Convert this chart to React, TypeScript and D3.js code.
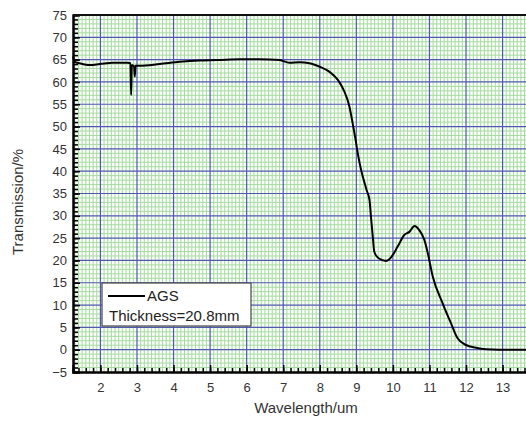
import React, { useEffect, useRef } from 'react';
import * as d3 from 'd3';

// wavelength (um) and transmission (%)
const wavelength = [
  1.25, 1.3, 1.43, 1.71, 1.98, 2.34, 2.75, 2.82, 2.84, 2.86, 2.92, 2.94, 2.96,
  3.07, 3.62, 4.17, 4.71, 5.2, 5.81, 6.35, 6.9, 7.17, 7.45, 7.72, 8.0, 8.26,
  8.5, 8.67, 8.81, 8.9, 8.98, 9.05, 9.13, 9.28, 9.36, 9.4, 9.45, 9.49, 9.55,
  9.61, 9.81, 9.95, 10.13, 10.31, 10.45, 10.59, 10.72, 10.86, 10.95, 11.09,
  11.36, 11.59, 11.77, 12.0, 12.27, 12.55, 12.9, 13.75
];
const transmission = [
  65.7, 64.5, 64.2, 63.8, 64.0, 64.3, 64.3, 64.2, 57.1, 63.8, 63.5, 61.2, 63.6,
  63.6, 64.0, 64.5, 64.8, 64.9, 65.1, 65.1, 64.9, 64.3, 64.4, 64.2, 63.4, 62.3,
  60.4, 57.9, 54.5, 50.7, 47.0, 43.5, 40.3, 35.8, 33.5, 29.8, 25.3, 22.0, 21.0,
  20.5, 19.9, 20.7, 23.1, 25.7, 26.4, 27.7, 26.8, 24.6, 21.8, 16.4,
  10.4, 5.9, 2.55, 1.05, 0.45, 0.1, 0, 0
];

const xTicks = [2, 3, 4, 5, 6, 7, 8, 9, 10, 11, 12, 13];
const yTicks = [-5, 0, 5, 10, 15, 20, 25, 30, 35, 40, 45, 50, 55, 60, 65, 70, 75];
const xDomain = [1.25, 13.75];
const yDomain = [-5, 75];

const legendName = 'AGS';
const legendNote = 'Thickness=20.8mm';

const App = () => {
  const svgRef = useRef(null);
  const width = 526;
  const height = 423;
  const margin = { top: 15, right: -4, bottom: 51, left: 73 };

  useEffect(() => {
    const svg = d3.select(svgRef.current);
    svg.selectAll('*').remove();

    const plotWidth = width - margin.left - margin.right;
    const plotHeight = height - margin.top - margin.bottom;
    const font = 'Liberation Sans, Arial, sans-serif';

    const x = d3.scaleLinear().domain(xDomain).range([0, plotWidth]);
    const y = d3.scaleLinear().domain(yDomain).range([plotHeight, 0]);

    const plot = svg.append('g')
      .attr('transform', `translate(${margin.left}, ${margin.top})`);

    plot.append('rect')
      .attr('width', plotWidth)
      .attr('height', plotHeight)
      .attr('fill', '#fbfdfb');

    // minor green grid
    const xMinor = d3.range(13, 138).map(d => d / 10).filter(d => Math.abs(d - Math.round(d)) > 0.01);
    const yMinor = d3.range(-5, 76).filter(d => d % 5 !== 0);

    plot.append('g').selectAll('line')
      .data(xMinor)
      .enter()
      .append('line')
      .attr('x1', d => x(d)).attr('x2', d => x(d))
      .attr('y1', 0).attr('y2', plotHeight)
      .attr('stroke', '#a6dba0')
      .attr('stroke-width', 1);

    plot.append('g').selectAll('line')
      .data(yMinor)
      .enter()
      .append('line')
      .attr('x1', 0).attr('x2', plotWidth)
      .attr('y1', d => y(d)).attr('y2', d => y(d))
      .attr('stroke', '#a6dba0')
      .attr('stroke-width', 1);

    // major blue grid
    plot.append('g').selectAll('line')
      .data(xTicks)
      .enter()
      .append('line')
      .attr('x1', d => x(d)).attr('x2', d => x(d))
      .attr('y1', 0).attr('y2', plotHeight)
      .attr('stroke', '#5058b0')
      .attr('stroke-width', 1.2);

    plot.append('g').selectAll('line')
      .data(yTicks.slice(1, -1))
      .enter()
      .append('line')
      .attr('x1', 0).attr('x2', plotWidth)
      .attr('y1', d => y(d)).attr('y2', d => y(d))
      .attr('stroke', '#5058b0')
      .attr('stroke-width', 1.2);

    // axes, ticks pointing inward
    const xAxis = d3.axisBottom(x)
      .tickValues(d3.range(1.4, 13.75, 0.2).map(d => +d.toFixed(1)))
      .tickSize(-4)
      .tickFormat(() => '');
    const xMajor = d3.axisBottom(x)
      .tickValues(xTicks)
      .tickSize(-7)
      .tickPadding(11)
      .tickFormat(d3.format('d'));
    const yAxis = d3.axisLeft(y)
      .tickValues(d3.range(-4, 75, 1))
      .tickSize(-5)
      .tickFormat(() => '');
    const yMajor = d3.axisLeft(y)
      .tickValues(yTicks)
      .tickSize(-7)
      .tickPadding(6)
      .tickFormat(d3.format('d'));

    [xAxis, xMajor].forEach(ax => {
      plot.append('g')
        .attr('transform', `translate(0, ${plotHeight})`)
        .call(ax)
        .call(g => g.select('.domain').attr('stroke', '#000').attr('stroke-width', 2))
        .call(g => g.selectAll('line').attr('stroke', '#000').attr('stroke-width', 1.5))
        .call(g => g.selectAll('text').attr('fill', '#333').attr('font-size', 13).attr('font-family', font));
    });
    [yAxis, yMajor].forEach(ax => {
      plot.append('g')
        .call(ax)
        .call(g => g.select('.domain').attr('stroke', '#000').attr('stroke-width', 2))
        .call(g => g.selectAll('line').attr('stroke', '#000').attr('stroke-width', 1.5))
        .call(g => g.selectAll('text').attr('fill', '#333').attr('font-size', 13).attr('font-family', font));
    });

    // top frame
    plot.append('line')
      .attr('x1', 0).attr('x2', plotWidth)
      .attr('y1', 0).attr('y2', 0)
      .attr('stroke', '#111')
      .attr('stroke-width', 2);

    // transmission curve
    const pts = wavelength.map((w, i) => [w, transmission[i]]);
    const line = d3.line()
      .x(d => x(d[0]))
      .y(d => y(d[1]))
      .curve(d3.curveMonotoneX);

    plot.append('path')
      .datum(pts)
      .attr('d', line)
      .attr('fill', 'none')
      .attr('stroke', '#000')
      .attr('stroke-width', 2)
      .attr('stroke-linejoin', 'round');

    // legend
    const lg = svg.append('g').attr('transform', 'translate(102, 283)');
    lg.append('rect')
      .attr('width', 149)
      .attr('height', 43)
      .attr('fill', '#fff')
      .attr('stroke', '#444')
      .attr('stroke-width', 1.2);
    lg.append('line')
      .attr('x1', 6).attr('x2', 43)
      .attr('y1', 13).attr('y2', 13)
      .attr('stroke', '#000')
      .attr('stroke-width', 2);
    lg.append('text')
      .attr('x', 45).attr('y', 18)
      .attr('font-size', 15)
      .attr('font-family', font)
      .attr('fill', '#222')
      .text(legendName);
    lg.append('text')
      .attr('x', 7).attr('y', 38)
      .attr('font-size', 15)
      .attr('font-family', font)
      .attr('fill', '#222')
      .text(legendNote);

    // axis titles
    svg.append('text')
      .attr('x', 306)
      .attr('y', 413)
      .attr('text-anchor', 'middle')
      .attr('font-size', 15)
      .attr('font-family', font)
      .attr('fill', '#333')
      .text('Wavelength/um');

    svg.append('text')
      .attr('transform', 'rotate(-90)')
      .attr('x', -202)
      .attr('y', 23)
      .attr('text-anchor', 'middle')
      .attr('font-size', 15)
      .attr('font-family', font)
      .attr('fill', '#333')
      .text('Transmission/%');
  }, []);

  return (
    <svg
      ref={svgRef}
      width={width}
      height={height}
      style={{ position: 'absolute', left: 0, top: 0, background: '#fff' }}
    />
  );
};

export default App;
